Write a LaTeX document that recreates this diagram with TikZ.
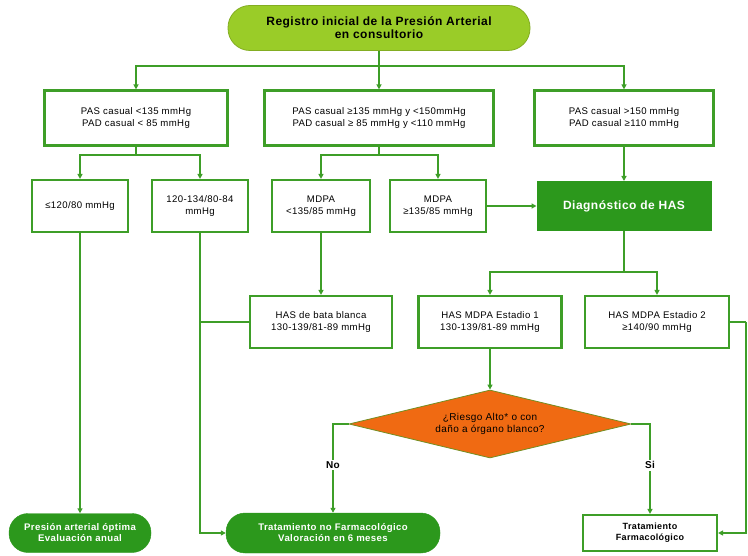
\documentclass[tikz,border=0pt]{standalone}
\usepackage{fontspec}
\setmainfont{Liberation Sans}[LetterSpace=4]
\usetikzlibrary{shapes.geometric,arrows.meta}
\definecolor{linegreen}{RGB}{62,158,40}
\definecolor{fillgreen}{RGB}{44,152,28}
\definecolor{limegreen}{RGB}{154,204,40}
\definecolor{riskorange}{RGB}{240,106,18}
\tikzset{
	conn/.style={draw=linegreen, line width=1.3pt},
	arr/.style={conn, -{Triangle[length=5pt,width=5pt]}},
	databox/.style={draw=linegreen, line width=2.2pt, fill=white, align=center, inner sep=2pt, font=\fontsize{9.6}{11.5}\selectfont},
	pill/.style={rounded corners=19pt, fill=fillgreen, draw=fillgreen, text=white, align=center, inner sep=2pt, font=\bfseries\fontsize{9.6}{11}\selectfont},
	lbl/.style={fill=white, inner sep=1.5pt, font=\bfseries\fontsize{10}{12}\selectfont}
}
\begin{document}
\begin{tikzpicture}[x=1pt, y=-1pt]
			%%%%% START %%%%%
			\useasboundingbox[fill=white] (0, 0) rectangle (748, 556);
			
			\node[rounded corners=22pt, fill=limegreen, draw=limegreen!85!black, line width=0.8pt, minimum width=302pt, minimum height=45pt, align=center, font=\bfseries\fontsize{12}{13}\selectfont] (reg) at (379, 28) {Registro inicial de la Presión Arterial\\en consultorio};
			
			\node[databox, minimum width=183pt, minimum height=55pt] (pas1) at (136, 118) {PAS casual <135 mmHg\\PAD casual < 85 mmHg};
			\node[databox, minimum width=229pt, minimum height=55pt] (pas2) at (379, 118) {PAS casual ≥135 mmHg y <150mmHg\\PAD casual ≥ 85 mmHg y <110 mmHg};
			\node[databox, minimum width=179pt, minimum height=55pt] (pas3) at (624, 118) {PAS casual >150 mmHg\\PAD casual ≥110 mmHg};
			
			\node[databox, minimum width=96pt, minimum height=52pt] (opt) at (80, 206) {≤120/80 mmHg};
			\node[databox, minimum width=96pt, minimum height=52pt] (pre) at (200, 206) {120-134/80-84\\mmHg};
			\node[databox, minimum width=98pt, minimum height=52pt] (mbaja) at (321, 206) {MDPA\\<135/85 mmHg};
			\node[databox, minimum width=96pt, minimum height=52pt] (malta) at (438, 206) {MDPA\\≥135/85 mmHg};
			\node[fill=fillgreen, draw=fillgreen, line width=1pt, minimum width=174pt, minimum height=49pt, text=white, font=\bfseries\fontsize{12}{13}\selectfont] (diag) at (624, 206) {Diagnóstico de HAS};
			
			\node[databox, minimum width=142pt, minimum height=52pt] (bata) at (321, 322) {HAS de bata blanca\\130-139/81-89 mmHg};
			\node[databox, minimum width=143pt, minimum height=52pt] (est1) at (490, 322) {HAS MDPA Estadio 1\\130-139/81-89 mmHg};
			\node[databox, minimum width=144pt, minimum height=52pt] (est2) at (657, 322) {HAS MDPA Estadio 2\\≥140/90 mmHg};
			
			\node[diamond, aspect=4, inner sep=0pt, fill=riskorange, draw=linegreen!70!riskorange, line width=0.8pt, minimum width=282pt, minimum height=68pt, align=center, font=\fontsize{10}{12}\selectfont] (risk) at (490, 424) {¿Riesgo Alto* o con\\daño a órgano blanco?};
			
			\node[pill, minimum width=142pt, minimum height=39pt] (evalu) at (80, 533) {Presión arterial óptima\\Evaluación anual};
			\node[pill, minimum width=214pt, minimum height=40pt] (nofar) at (333, 533) {Tratamiento no Farmacológico\\Valoración en 6 meses};
			\node[databox, minimum width=134pt, minimum height=36pt, font=\bfseries\fontsize{9}{11}\selectfont] (far) at (650, 533) {Tratamiento\\Farmacológico};
			
			\coordinate (j1) at (379, 66);
			\coordinate (j2) at (136, 155);
			\coordinate (j3) at (379, 155);
			\coordinate (j4) at (624, 272);
			\coordinate (rt) at (746, 322);
			
			\draw[conn] (reg) -- (j1);
			\draw[arr] (j1) -| (pas1);
			\draw[arr] (j1) -- (pas2);
			\draw[arr] (j1) -| (pas3);
			
			\draw[conn] (pas1) -- (j2);
			\draw[arr] (j2) -| (opt);
			\draw[arr] (j2) -| (pre);
			\draw[conn] (pas2) -- (j3);
			\draw[arr] (j3) -| (mbaja);
			\draw[arr] (j3) -| (malta);
			\draw[arr] (pas3) -- (diag);
			\draw[arr] (malta) -- (diag);
			
			\draw[conn] (diag) -- (j4);
			\draw[arr] (j4) -| (est1);
			\draw[arr] (j4) -| (est2);
			\draw[arr] (mbaja) -- (bata);
			\draw[arr] (opt) -- (evalu);
			\draw[arr] (pre) |- (nofar);
			\draw[conn] (bata.west) -- (bata.west -| pre);
			\draw[arr] (est1) -- (risk);
			
			\draw[arr] (risk.west) -| node[lbl, pos=0.73] {No} (nofar);
			\draw[arr] (risk.east) -| node[lbl, pos=0.73] {Si} (far);
			\draw[conn] (est2) -- (rt);
			\draw[arr] (rt) |- (far);
			%%%%% END %%%%%
\end{tikzpicture}
\end{document}
